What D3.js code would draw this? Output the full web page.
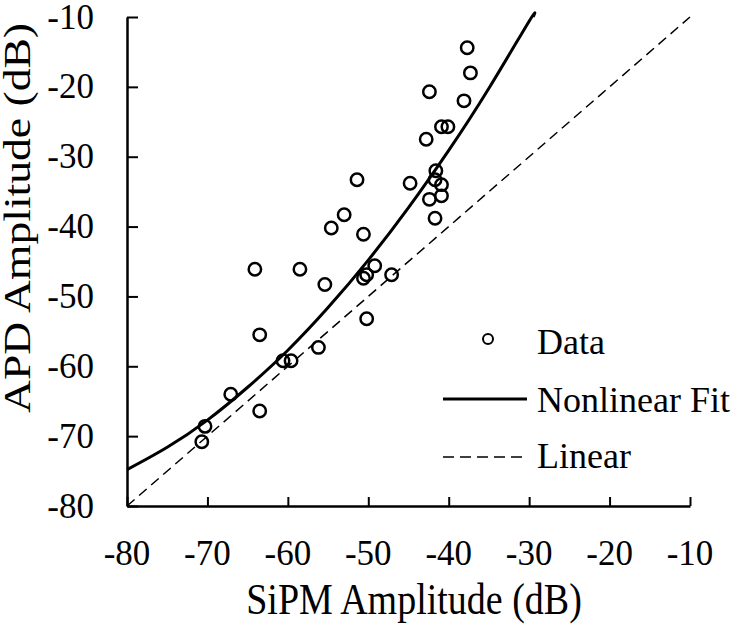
<!DOCTYPE html>
<html>
<head>
<meta charset="utf-8">
<script src="https://cdn.jsdelivr.net/npm/d3@7"></script>
<style>
  @font-face { font-family: 'ChartSerif'; src: local('Liberation Serif'), local('LiberationSerif'), local('LiberationSerif-Regular'); }
  html, body { margin: 0; padding: 0; background: #fff; }
  svg { display: block; }
  .ser { font-family: 'ChartSerif', 'Liberation Serif'; }
</style>
</head>
<body>
<svg id="chart" width="742" height="628"></svg>
<script>
// ---- data ----
const sipm = [-37.7, -37.3, -42.4, -38.1, -40.9, -40.1, -42.8, -41.6, -41.7, -40.9,
              -44.8, -51.4, -40.9, -42.4, -53.0, -54.6, -41.7, -50.6, -64.1, -58.5,
              -49.2, -55.4, -50.6, -50.2, -47.1, -50.2, -63.5, -60.6, -59.6, -56.2,
              -67.1, -63.5, -70.3, -70.7];
const apd  = [-14.4, -18.0, -20.7, -22.0, -25.7, -25.7, -27.5, -32.0, -33.3, -34.0,
              -33.8, -33.3, -35.6, -36.1, -38.3, -40.2, -38.8, -41.1, -46.1, -46.1,
              -45.6, -48.3, -47.4, -46.9, -46.9, -53.2, -55.5, -59.2, -59.2, -57.3,
              -64.0, -66.4, -68.6, -70.8];
const fitX = [-80, -75, -70, -65, -60, -55, -50, -45, -40, -35, -30, -29.5];
const fitY = [-74.8, -71.6, -67.7, -63.0, -57.7, -51.6, -44.8, -37.3, -29.1, -20.2, -10.6, -10.0];
const linX = [-80, -10];
const linY = [-80, -10];
const xTicks = [-80, -70, -60, -50, -40, -30, -20, -10];
const yTicks = [-80, -70, -60, -50, -40, -30, -20, -10];
const legendLabels = ["Data", "Nonlinear Fit", "Linear"];
const xTitle = "SiPM Amplitude (dB)";
const yTitle = "APD Amplitude (dB)";

// ---- drawing ----
const svg = d3.select("#chart");
const x = d3.scaleLinear().domain([-80, -10]).range([127, 690]);
const y = d3.scaleLinear().domain([-80, -10]).range([506, 17]);
const txt = () => svg.append("text").attr("class", "ser").style("font-family", "'Liberation Serif'");

// linear reference (dashed)
const line = d3.line().x(d => x(d[0])).y(d => y(d[1]));
svg.append("path")
  .datum(d3.zip(linX, linY))
  .attr("d", line)
  .attr("fill", "none").attr("stroke", "#000")
  .attr("stroke-width", 1.5).attr("stroke-dasharray", "10,6");

// nonlinear fit (solid)
const curve = d3.line().x(d => x(d[0])).y(d => y(d[1])).curve(d3.curveNatural);
svg.append("path")
  .datum(d3.zip(fitX, fitY))
  .attr("d", curve)
  .attr("fill", "none").attr("stroke", "#000")
  .attr("stroke-width", 3);

// data points
svg.append("g").selectAll("circle")
  .data(d3.zip(sipm, apd))
  .join("circle")
  .attr("cx", d => x(d[0])).attr("cy", d => y(d[1]))
  .attr("r", 6.2)
  .attr("fill", "none").attr("stroke", "#000").attr("stroke-width", 2.5);

// axes (lines and ticks from d3, labels added as texts)
const xAxis = d3.axisBottom(x).tickValues(xTicks).tickSize(-9).tickSizeOuter(0).tickFormat("");
const gx = svg.append("g").attr("transform", "translate(0,506)").call(xAxis);
const yAxis = d3.axisLeft(y).tickValues(yTicks).tickSize(-11).tickSizeOuter(0).tickFormat("");
const gy = svg.append("g").attr("transform", "translate(127,0)").call(yAxis);
[gx, gy].forEach(g => {
  g.select(".domain").attr("stroke", "#000").attr("stroke-width", 2.5);
  g.selectAll(".tick line").attr("stroke", "#000").attr("stroke-width", 2);
  g.selectAll(".tick text").remove();
});

xTicks.forEach(t => {
  txt().attr("x", x(t)).attr("y", 565).attr("text-anchor", "middle")
    .attr("font-size", 35).text(String(t));
});
yTicks.forEach(t => {
  txt().attr("x", 94).attr("y", y(t) + 11.5).attr("text-anchor", "end")
    .attr("font-size", 35).text(String(t));
});

// axis titles
txt().attr("transform", "translate(414,614) scale(1,1.15)")
  .attr("text-anchor", "middle")
  .attr("font-size", 38)
  .text(xTitle);

txt().attr("transform", "translate(30,218) rotate(-90) scale(1.2,1)")
  .attr("text-anchor", "middle")
  .attr("font-size", 38)
  .text(yTitle);

// legend
svg.append("circle").attr("cx", 488).attr("cy", 339).attr("r", 5)
  .attr("fill", "none").attr("stroke", "#000").attr("stroke-width", 2);
svg.append("line").attr("x1", 443).attr("x2", 527).attr("y1", 399).attr("y2", 399)
  .attr("stroke", "#000").attr("stroke-width", 3);
svg.append("line").attr("x1", 443).attr("x2", 525).attr("y1", 457).attr("y2", 457)
  .attr("stroke", "#000").attr("stroke-width", 1.5).attr("stroke-dasharray", "11,6");
const legY = [354, 412, 468];
legendLabels.forEach((lab, i) => {
  txt().attr("x", 537).attr("y", legY[i])
    .attr("font-size", 36)
    .text(lab);
});
</script>
</body>
</html>
